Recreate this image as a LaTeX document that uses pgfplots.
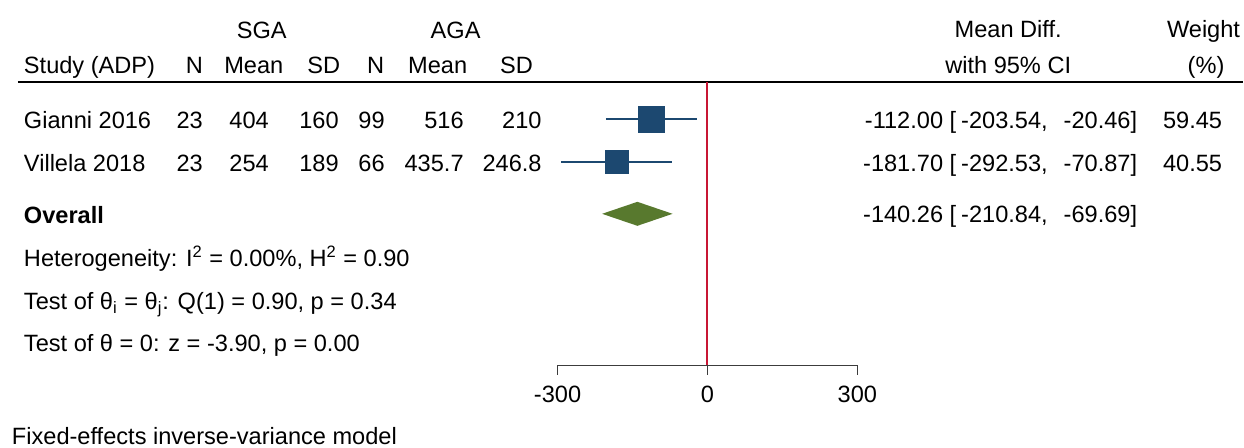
\documentclass[border=0pt]{standalone}
\usepackage{fontspec}
\setmainfont{Liberation Sans}
\usepackage{pgfplots}
\pgfplotsset{compat=1.18}
\tikzset{every node/.append style={inner sep=0pt, outer sep=0pt}}
\definecolor{sqblue}{RGB}{28,72,112}
\definecolor{dgreen}{RGB}{88,121,46}
\definecolor{vred}{RGB}{200,22,52}
\definecolor{axgray}{RGB}{60,60,60}
\begin{document}
\fontsize{11.8}{14}\selectfont
\begin{tikzpicture}[every node/.append style={inner sep=0pt, outer sep=0pt}]
\begin{axis}[
  width=622pt, height=224pt, scale only axis,
  xmin=-1416, xmax=1072, ymin=-448, ymax=0,
  hide axis, clip=false,
]
\path[draw=none] (rel axis cs:0,0) rectangle (rel axis cs:1,1);
% header rule
\addplot[black, line width=1pt] coordinates {(-1380,-82.5) (1072,-82.5)};
% null line
\addplot[vred, line width=1pt] coordinates {(0,-82.5) (0,-366)};
% x axis
\addplot[axgray, line width=0.75pt] coordinates {(-300,-375) (-300,-366) (300,-366) (300,-375)};
\addplot[axgray, line width=0.75pt] coordinates {(0,-366) (0,-375)};
% CIs
\addplot[sqblue, line width=1pt] coordinates {(-203.54,-119.5) (-20.46,-119.5)};
\addplot[sqblue, line width=1pt] coordinates {(-292.53,-162) (-70.87,-162)};
% squares
\addplot[only marks, mark=square*, mark size=6.7pt, color=sqblue] coordinates {(-112.00,-119.5)};
\addplot[only marks, mark=square*, mark size=5.8pt, color=sqblue] coordinates {(-181.70,-162)};
% diamond
\addplot[fill=dgreen, draw=none] coordinates {(-210.84,-214) (-140.26,-202) (-69.69,-214) (-140.26,-226)} -- cycle;
% headers
\node[anchor=base] at (axis cs:-892,-38.3) {SGA};
\node[anchor=base] at (axis cs:-504,-38.3) {AGA};
\node[anchor=base] at (axis cs:602,-37.5) {Mean Diff.};
\node[anchor=base east] at (axis cs:1066,-37.5) {Weight};
\node[anchor=base west] at (axis cs:-1368,-73.3) {Study (ADP)};
\node[anchor=base] at (axis cs:-1027,-73.3) {N};
\node[anchor=base] at (axis cs:-908,-73.3) {Mean};
\node[anchor=base] at (axis cs:-768,-73.3) {SD};
\node[anchor=base] at (axis cs:-664,-73.3) {N};
\node[anchor=base] at (axis cs:-540,-73.3) {Mean};
\node[anchor=base] at (axis cs:-382,-73.3) {SD};
\node[anchor=base] at (axis cs:602,-73.3) {with 95\% CI};
\node[anchor=base] at (axis cs:998,-73.3) {(\%)};
% row 1
\node[anchor=base west] at (axis cs:-1368,-128.3) {Gianni 2016};
\node[anchor=base east] at (axis cs:-1010,-128.3) {23};
\node[anchor=base east] at (axis cs:-878,-128.3) {404};
\node[anchor=base east] at (axis cs:-738,-128.3) {160};
\node[anchor=base east] at (axis cs:-646,-128.3) {99};
\node[anchor=base east] at (axis cs:-488,-128.3) {516};
\node[anchor=base east] at (axis cs:-332,-128.3) {210};
\node[anchor=base east] at (axis cs:498,-128.3) {-112.00 [};
\node[anchor=base west] at (axis cs:508,-128.3) {-203.54,};
\node[anchor=base east] at (axis cs:860,-128.3) {-20.46]};
\node[anchor=base east] at (axis cs:1030,-128.3) {59.45};
% row 2
\node[anchor=base west] at (axis cs:-1368,-171.7) {Villela 2018};
\node[anchor=base east] at (axis cs:-1010,-171.7) {23};
\node[anchor=base east] at (axis cs:-878,-171.7) {254};
\node[anchor=base east] at (axis cs:-738,-171.7) {189};
\node[anchor=base east] at (axis cs:-646,-171.7) {66};
\node[anchor=base east] at (axis cs:-488,-171.7) {435.7};
\node[anchor=base east] at (axis cs:-332,-171.7) {246.8};
\node[anchor=base east] at (axis cs:498,-171.7) {-181.70 [};
\node[anchor=base west] at (axis cs:508,-171.7) {-292.53,};
\node[anchor=base east] at (axis cs:860,-171.7) {-70.87]};
\node[anchor=base east] at (axis cs:1030,-171.7) {40.55};
% overall
\node[anchor=base west] at (axis cs:-1368,-223.5) {\bfseries Overall};
\node[anchor=base east] at (axis cs:498,-222.5) {-140.26 [};
\node[anchor=base west] at (axis cs:508,-222.5) {-210.84,};
\node[anchor=base east] at (axis cs:860,-222.5) {-69.69]};
% stats
\node[anchor=base west] at (axis cs:-1368,-266.7) {Heterogeneity: I\textsuperscript{2} = 0.00\%, H\textsuperscript{2} = 0.90};
\node[anchor=base west] at (axis cs:-1368,-310) {Test of θ\textsubscript{i} = θ\textsubscript{j}: Q(1) = 0.90, p = 0.34};
\node[anchor=base west] at (axis cs:-1368,-351.7) {Test of θ = 0: z = -3.90, p = 0.00};
% tick labels
\node[anchor=base] at (axis cs:-300,-403) {-300};
\node[anchor=base] at (axis cs:0,-403) {0};
\node[anchor=base] at (axis cs:300,-403) {300};
% footnote
\node[anchor=base west] at (axis cs:-1392,-445) {Fixed-effects inverse-variance model};
\end{axis}
\end{tikzpicture}
\end{document}
